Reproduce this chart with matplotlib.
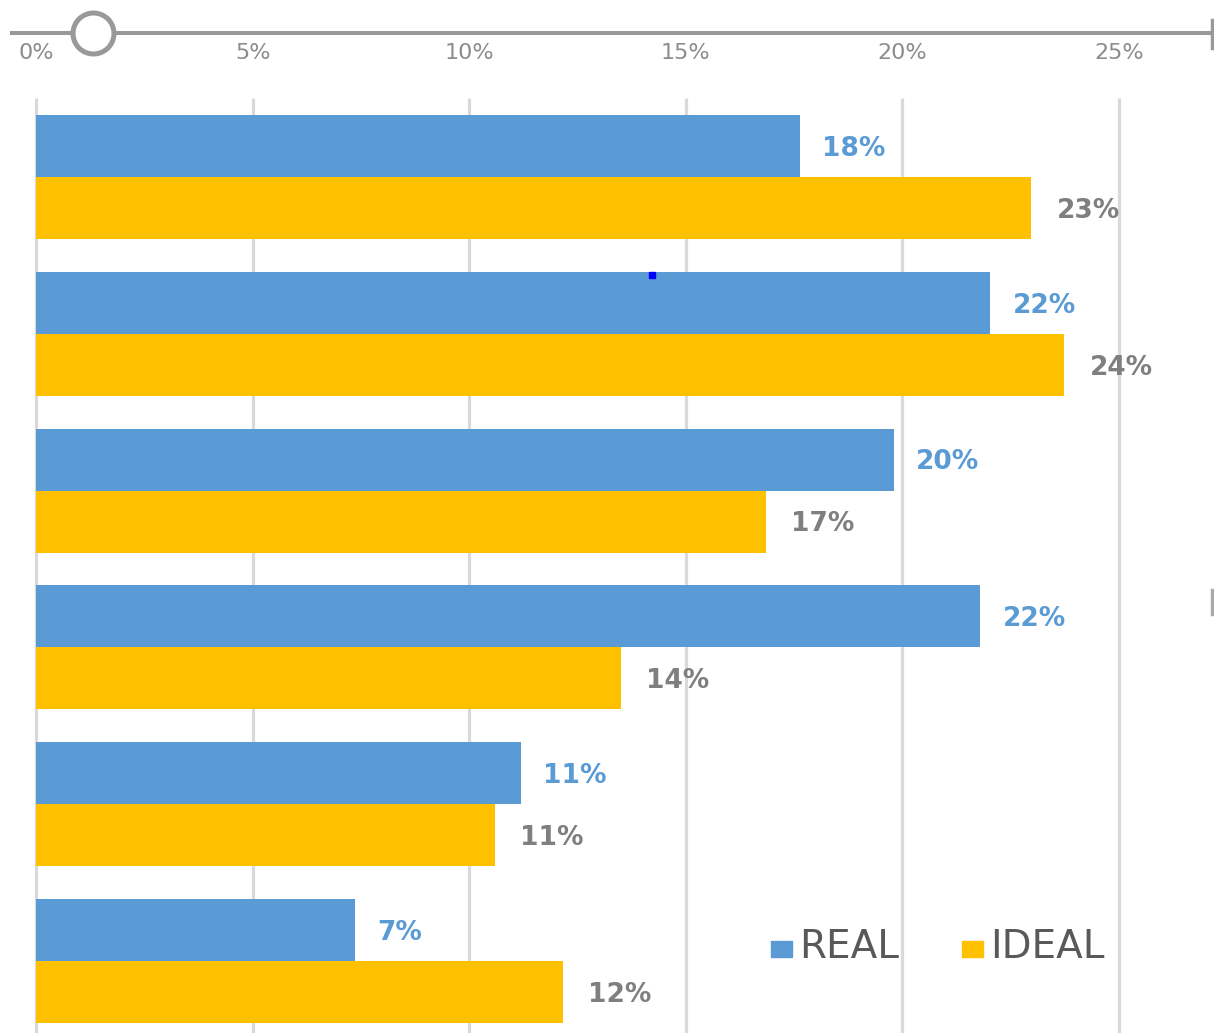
import matplotlib
matplotlib.use("Agg")
import matplotlib.pyplot as plt
import numpy as np
from matplotlib.patches import Rectangle
from matplotlib.lines import Line2D

# values (percent)
real_vals = [17.64, 22.03, 19.8, 21.8, 11.2, 7.37]
ideal_vals = [22.98, 23.74, 16.86, 13.5, 10.6, 12.17]
series_names = ["REAL", "IDEAL"]
tick_vals = [0, 5, 10, 15, 20, 25]
tick_labels = ["0%", "5%", "10%", "15%", "20%", "25%"]

BLUE = "#5b9bd5"
YELLOW = "#ffc000"
GRID = "#d9d9d9"
AXIS = "#999999"

W, H = 1214, 1033
fig = plt.figure(figsize=(W / 100, H / 100), dpi=100)

# pixel mapping of the reference
x0, px_pct = 36, 43.32      # 0% at x=36, 43.32 px per percent
y0, px_grp = 177, 156.8     # first group boundary, spacing between groups
left, right, top = 12, 1210, 33

ax = fig.add_axes([left / W, 0, (right - left) / W, (H - top) / H])
ax.set_xlim((left - x0) / px_pct, (right - x0) / px_pct)
ax.set_ylim((H - y0) / px_grp, (top - y0) / px_grp)

# gridlines start a bit below the axis line
grid_top = (98 - y0) / px_grp
ax.vlines(tick_vals, grid_top, ax.get_ylim()[0], color=GRID, lw=2.3, zorder=1)

idx = np.arange(len(real_vals))
h = 62 / px_grp
ax.barh(idx - h / 2, real_vals, height=h, color=BLUE, zorder=2)
ax.barh(idx + h / 2, ideal_vals, height=h, color=YELLOW, zorder=2)

lab_font = dict(family=["DejaVu Sans"], fontsize=19, fontweight="bold")
for i, (r, d) in enumerate(zip(real_vals, ideal_vals)):
    ax.annotate(f"{round(r)}%", (r, i - h / 2), xytext=(16, -2), textcoords="offset points",
                va="center", ha="left", color=BLUE, **lab_font)
    ax.annotate(f"{round(d)}%", (d, i + h / 2), xytext=(18, -2), textcoords="offset points",
                va="center", ha="left", color="#7f7f7f", **lab_font)

# axis line sits at the top, labels hang below it
for s in ["left", "right", "top"]:
    ax.spines[s].set_visible(False)
ax.spines["bottom"].set_position(("axes", 1.0))
ax.spines["bottom"].set_color(AXIS)
ax.spines["bottom"].set_linewidth(2.9)
ax.set_xticks(tick_vals)
ax.set_xticklabels(tick_labels, fontsize=16, color="#8c8c8c")
ax.tick_params(axis="x", length=0, pad=7)
ax.set_yticks([])

# slider handle on the axis line
ax.plot(1.316, ax.get_ylim()[1], "o", ms=29.5, mfc="white", mec=AXIS, mew=3.6,
        clip_on=False, zorder=5)
# tiny selection mark
ax.plot(14.22, (275 - y0) / px_grp, "s", ms=4, color="#0000ff", zorder=4)

# end cap of the axis line and a stray handle on the right edge
fig.add_artist(Line2D([1212 / W] * 2, [1 - 20 / H, 1 - 48 / H], color=AXIS, lw=2.5))
fig.add_artist(Line2D([1212 / W] * 2, [1 - 590 / H, 1 - 614 / H], color="#aaaaaa", lw=2.5))

# legend drawn by hand at the lower right
leg_font = dict(fontsize=28, color="#595959")
for name, col, bx in [(series_names[0], BLUE, 771), (series_names[1], YELLOW, 962)]:
    fig.patches.append(Rectangle((bx / W, 1 - 957 / H), 21 / W, 16 / H,
                                 transform=fig.transFigure, color=col))
    fig.text((bx + 28) / W, 1 - 947 / H, name, va="center", ha="left", **leg_font)

fig.savefig("out.png", dpi=100)
